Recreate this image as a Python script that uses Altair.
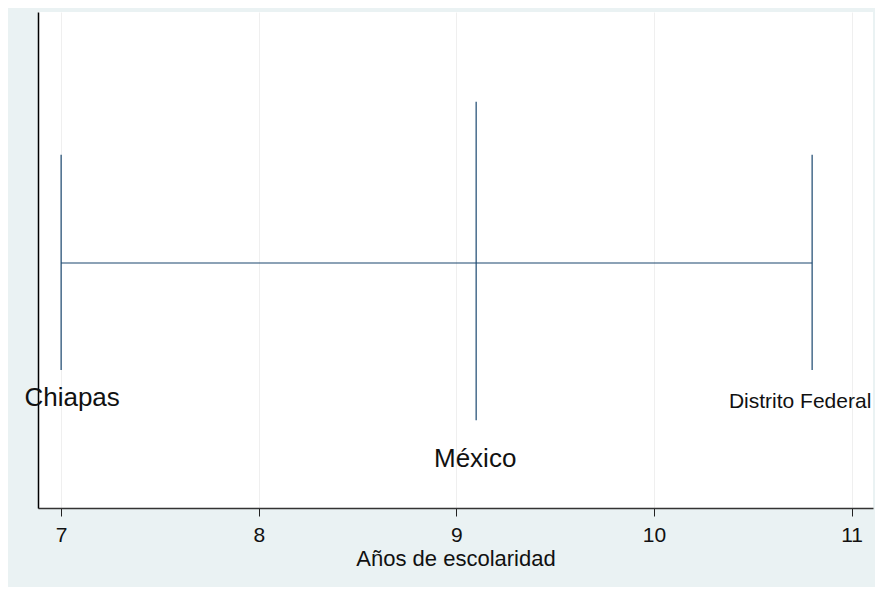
import altair as alt
import pandas as pd

# Data
estados = ["Chiapas", "México", "Distrito Federal"]
escolaridad = [7.0, 9.1, 10.8]          # Años de escolaridad
y_bajo = [27.8, 17.7, 27.8]             # lower end of each vertical marker
y_alto = [71.2, 81.9, 71.2]             # upper end of each vertical marker
y_etiqueta = [20.6, 8.3, 20.2]          # label baseline height
y_rango = 49.4                          # height of the horizontal range line
x_ticks = [7, 8, 9, 10, 11]

df = pd.DataFrame({
    "estado": estados,
    "esc": escolaridad,
    "y0": y_bajo,
    "y1": y_alto,
    "ylab": y_etiqueta,
})
rango = pd.DataFrame({"xmin": [min(escolaridad)], "xmax": [max(escolaridad)], "y": [y_rango]})

FONT = "Liberation Sans"
LINE = "#1a476f"

xscale = alt.Scale(domain=[6.883, 11.108], nice=False, zero=False)
yscale = alt.Scale(domain=[0, 100], nice=False, zero=False)

xaxis = alt.Axis(values=x_ticks, title="Años de escolaridad", grid=True, gridColor="#efefef",
                 gridWidth=1, tickColor="#222", tickSize=8, domainColor="#333", domainWidth=1.5,
                 labelFontSize=21, labelColor="#111", labelPadding=8, labelFont=FONT,
                 titleFont=FONT, titleFontSize=22, titleFontWeight="normal", titleColor="#111",
                 titlePadding=3, format="d")
yaxis = alt.Axis(labels=False, ticks=False, grid=False, domainColor="#000", domainWidth=1.5, title=None)

base = alt.Chart(df)

verticales = base.mark_rule(color=LINE, strokeWidth=1.2).encode(
    x=alt.X("esc:Q", scale=xscale, axis=xaxis),
    y=alt.Y("y0:Q", scale=yscale, axis=yaxis),
    y2="y1:Q",
)

horizontal = alt.Chart(rango).mark_rule(color=LINE, strokeWidth=1.2).encode(
    x=alt.X("xmin:Q", scale=xscale),
    x2="xmax:Q",
    y=alt.Y("y:Q", scale=yscale),
)

def etiqueta(nombre, dx, size):
    return base.transform_filter(alt.datum.estado == nombre).mark_text(
        font=FONT, fontSize=size, color="#111", align="center", baseline="alphabetic", dx=dx
    ).encode(
        x=alt.X("esc:Q", scale=xscale),
        y=alt.Y("ylab:Q", scale=yscale),
        text="estado:N",
    )

chart = alt.layer(
    verticales, horizontal,
    etiqueta("Chiapas", 11, 26),
    etiqueta("México", -1, 26),
    etiqueta("Distrito Federal", -12, 21),
).properties(
    width=835, height=496,
    background="#eaf2f3",
    autosize=alt.AutoSizeParams(type="none"),
    padding={"left": 30, "top": 4, "right": 2, "bottom": 79},
).configure_view(
    fill="white", strokeWidth=0
)

chart.save("out.html", embed_options={"renderer": "svg", "actions": False})
